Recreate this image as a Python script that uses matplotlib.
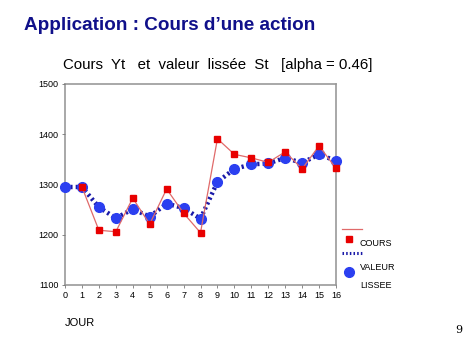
import numpy as np
import matplotlib
matplotlib.use("Agg")
import matplotlib.pyplot as plt
from matplotlib.lines import Line2D

# values
jours_cours = [1, 2, 3, 4, 5, 6, 7, 8, 9, 10, 11, 12, 13, 14, 15, 16]
cours = [1295, 1209, 1206, 1273, 1221, 1291, 1243, 1204, 1391, 1360,
         1353, 1344, 1365, 1331, 1377, 1332]
jours_lisse = list(range(0, 17))
lisse = [1295, 1295, 1255, 1233, 1251, 1236, 1262, 1253, 1232, 1305,
         1331, 1340, 1342, 1353, 1343, 1360, 1347]
yticks = [1100, 1200, 1300, 1400, 1500]
xticks = list(range(0, 17))

plt.rcParams['font.family'] = ['Liberation Sans', 'DejaVu Sans']

fig = plt.figure(figsize=(4.74, 3.55), dpi=100)
fig.patch.set_facecolor('white')

fig.text(24 / 474, 1 - 25 / 355, "Application : Cours d\u2019une action",
         fontsize=13.6, fontweight='bold', color='#10108a', va='center', ha='left')
fig.text(218 / 474, 1 - 65 / 355,
         "Cours  Yt   et  valeur  liss\u00e9e  St   [alpha = 0.46]",
         fontsize=10.8, color='black', va='center', ha='center')

dots = (0, (0.5, 0.7))
ax = fig.add_axes([65 / 474, 1 - 285 / 355, 271 / 474, 201 / 355])
ax.plot(jours_lisse, lisse, linestyle=dots, linewidth=3.2,
        color='#1a1aa8', marker='o', markersize=7,
        markerfacecolor='#2b3ff0', markeredgecolor='#2b3ff0', zorder=2,
        clip_on=False)
ax.plot(jours_cours, cours, '-', linewidth=0.9, color='#e06a6a',
        marker='s', markersize=4.8, markerfacecolor='#e80000',
        markeredgecolor='#e80000', zorder=3, clip_on=False)

ax.set_xlim(0, 16)
ax.set_ylim(1100, 1500)
ax.set_xticks(xticks)
ax.set_yticks(yticks)
ax.tick_params(labelsize=6.5, length=2.5, width=0.6, color='#777777', pad=2)
for s in ax.spines.values():
    s.set_color('#999999')
    s.set_linewidth(1.2)
    s.set_zorder(1)

fig.text(65 / 474, 1 - 323 / 355, "JOUR", fontsize=8, va='center', ha='left')
fig.text(455 / 474, 1 - 330 / 355, "9", fontsize=8, family='DejaVu Serif',
         va='center', ha='left')

# legend drawn by hand, to the right of the axes
tf = fig.transFigure
def fx(px):
    return px / 474
def fy(py):
    return 1 - py / 355
fig.add_artist(Line2D([fx(342), fx(362)], [fy(229), fy(229)], transform=tf,
                      color='#e06a6a', linewidth=0.9))
fig.add_artist(Line2D([fx(349)], [fy(239)], transform=tf, marker='s',
                      markersize=4.8, color='#e80000', linestyle='none'))
fig.text(fx(360), fy(243), "COURS", fontsize=6.5, va='center', ha='left')
fig.add_artist(Line2D([fx(342), fx(362)], [fy(253), fy(253)], transform=tf,
                      color='#1a1aa8', linewidth=2.2, linestyle=dots))
fig.add_artist(Line2D([fx(349)], [fy(272)], transform=tf, marker='o',
                      markersize=7, color='#2b3ff0', linestyle='none'))
fig.text(fx(360), fy(267), "VALEUR", fontsize=6.5, va='center', ha='left')
fig.text(fx(360), fy(285), "LISSEE", fontsize=6.5, va='center', ha='left')

fig.savefig("out.png", dpi=100)
